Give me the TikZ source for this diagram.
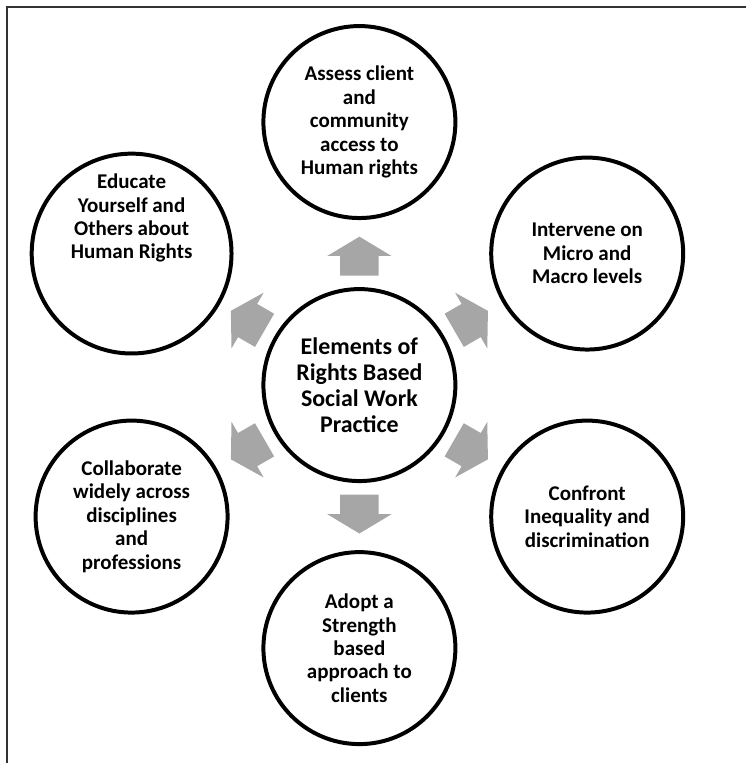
\documentclass[tikz,border=0pt]{standalone}
\usepackage{fontspec}
\setmainfont{Carlito}
\usetikzlibrary{shapes.arrows}
\definecolor{arrowgray}{RGB}{166,166,166}

\begin{document}
\begin{tikzpicture}[
  element/.style={circle, draw, line width=3pt, minimum size=5.08cm, inner sep=0pt, align=center,
    font=\bfseries\fontsize{15.8}{17.6}\selectfont},
  hub/.style={element, font=\bfseries\fontsize{18}{19.5}\selectfont},
  outarrow/.style={single arrow, fill=arrowgray, draw=none, inner xsep=0pt, inner ysep=0.5cm,
    minimum height=1.03cm, single arrow head extend=0.344cm, single arrow tip angle=118}]
  \useasboundingbox (-9.51,-10.0) rectangle (10.23,10.19);
  \draw[line width=1.5pt, black!80] (-9.33,-10.0) -- (-9.33,10.0) -- (10.23,10.0);
  \node[hub] (hub) at (0,0) {Elements of\\Rights Based\\Social Work\\Practice};
  \node[element] (assess) at (90:6.96) {Assess client\\and\\community\\access to\\Human rights};
  \node[element] (intervene) at (30:6.96) {Intervene on\\Micro and\\Macro levels};
  \node[element] (confront) at (-30:6.96) {Confront\\Inequality and\\discrimination};
  \node[element] (adopt) at (-90:6.96) {Adopt a\\Strength\\based\\approach to\\clients};
  \node[element] (collab) at (-150:6.96) {Collaborate\\widely across\\disciplines\\and\\professions};
  \node[element] (educate) at (150:6.96) {Educate\\Yourself and\\Others about\\Human Rights\\[1.35cm]\mbox{}};
  \foreach \a [count=\i] in {90,30,-30,-90,-150,150}
    \node[outarrow, rotate=\a] (arr\i) at (\a:3.26) {};
\end{tikzpicture}
\end{document}
